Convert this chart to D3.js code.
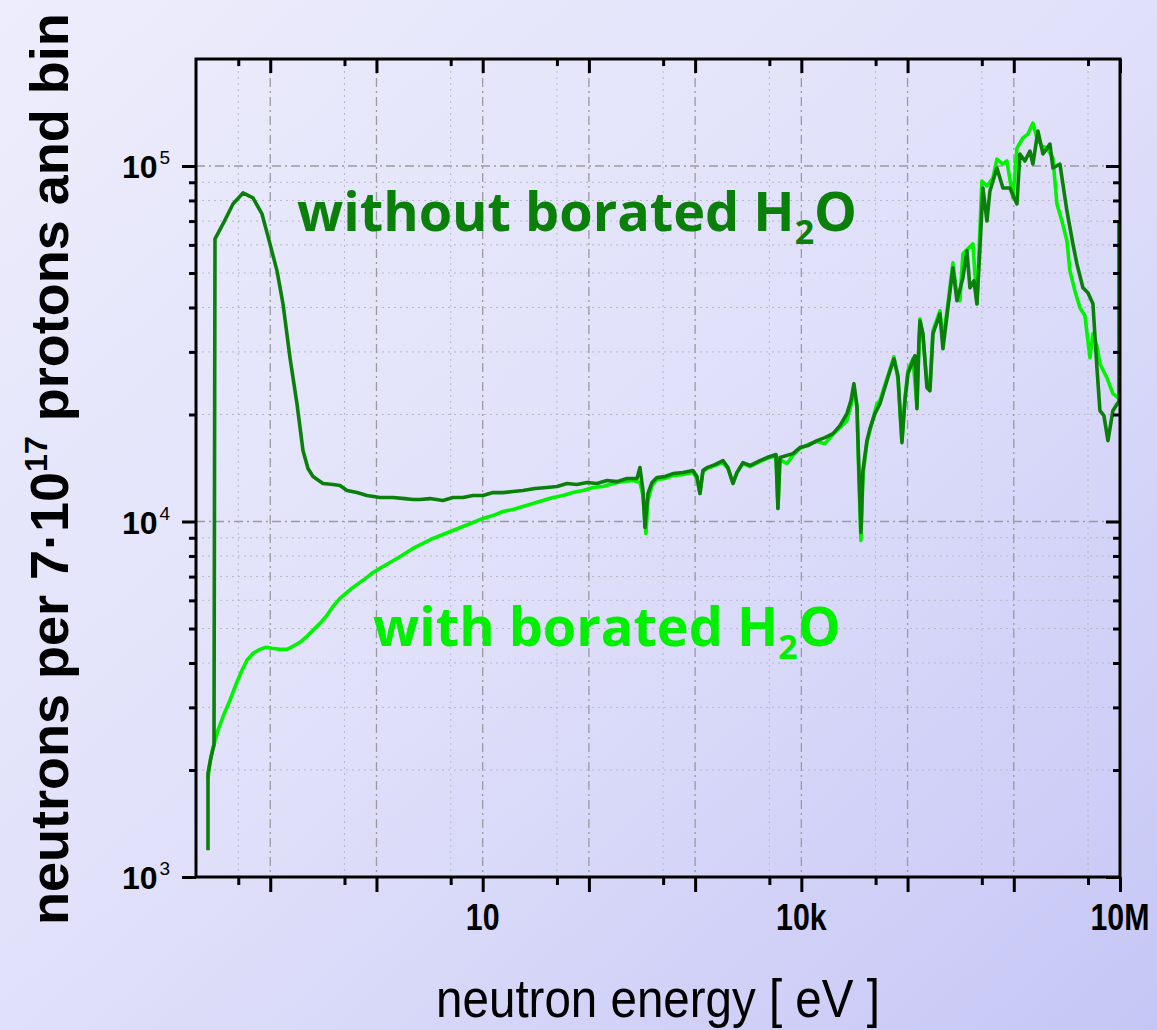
<!DOCTYPE html>
<html><head><meta charset="utf-8">
<script src="https://cdn.jsdelivr.net/npm/d3@7"></script>
<style>html,body{margin:0;padding:0;} svg{display:block;}</style>
</head><body>
<svg id="chart" width="1157" height="1030"></svg>
<script>
// ---- data (neutron energy in eV, neutrons per bin) ----
const withoutEnergy = [0.02594,0.02594,0.02768,0.02954,0.03019,0.03591,0.04459,0.05538,0.06880,0.08363,0.09945,0.1158,0.1318,0.1534,0.1785,0.2033,0.2266,0.2526,0.3136,0.3897,0.4534,0.5279,0.6556,0.8140,1.079,1.431,1.855,2.207,2.568,3.190,4.227,5.253,6.523,8.101,10.06,12.50,15.52,19.28,23.95,31.06,40.29,50.04,62.16,77.20,95.85,119.1,147.9,183.7,228.2,283.5,302.5,322.7,337.0,359.6,392.3,437.1,520.0,618.4,768.2,954.1,1040,1110,1185,1292,1537,1828,2037,2270,2476,2819,3283,4077,4746,5768,6022,6287,8334,9700,11540,14030,16680,19840,23090,26870,29310,31270,33380,34850,36390,38010,41450,44230,49300,54950,63930,74400,81180,88510,94470,100800,112300,117300,122500,128000,130800,139500,152200,162400,173400,201700,215300,239900,267400,291600,332000,362200,386600,421600,449800,480200,512300,558700,596200,693900,790400,919400,1.071e6,1.142e6,1.273e6,1.419e6,1.514e6,1.688e6,1.881e6,2.189e6,2.336e6,2.719e6,3.164e6,3.604e6,3.930e6,4.477e6,4.989e6,5.561e6,6.064e6,6.471e6,7.056e6,7.695e6,8.577e6,9.557e6,9.77e6,9.77e6];
const withoutCounts = [1190,1960,2174,2349,62360,68720,78220,84000,81300,73300,60390,50700,40960,28900,21450,15830,14090,13380,12790,12710,12620,12220,12060,11830,11680,11680,11600,11530,11530,11600,11460,11680,11680,11830,11830,12060,12060,12140,12220,12380,12460,12540,12790,12710,12870,12790,13040,12950,13210,13210,14180,12220,9620,11990,12870,13290,13380,13640,13730,13910,13380,11990,13910,14180,14460,14840,14180,12790,13730,14650,14370,14840,15130,15430,10880,15130,15520,16140,16350,16890,17220,17670,18610,20110,21880,24420,21180,13910,9310,13910,16890,18250,20110,21450,24900,28700,25710,16670,21880,26040,28330,29260,20770,32240,36700,33740,23790,23330,33740,38400,30620,39920,51700,41770,48460,57710,45440,47530,40960,58850,86750,70060,85090,98720,86750,86750,78220,108100,103300,110200,101300,125400,108100,115300,98720,101300,74750,60390,53050,45440,44000,40960,27080,20500,19850,16890,20500,21590,21590,70060];

const withEnergy = [0.02594,0.02709,0.02891,0.03221,0.03669,0.04178,0.04759,0.05420,0.06039,0.06880,0.08005,0.09119,0.1038,0.1235,0.1437,0.1637,0.1905,0.2218,0.2526,0.2939,0.3421,0.3897,0.4534,0.5279,0.6009,0.6996,0.8140,0.9273,1.079,1.340,1.560,1.855,2.207,2.741,3.404,4.227,5.253,6.523,8.101,10.06,12.50,15.52,19.28,23.95,29.74,36.94,45.89,57.00,70.78,87.90,109.2,135.6,168.5,209.2,259.9,302.5,322.7,344.4,359.6,392.3,437.1,520.0,618.4,768.2,954.1,1040,1110,1185,1292,1537,1828,2037,2270,2476,2819,3283,4077,4746,5768,6022,6287,7317,8334,9700,12050,14030,16680,19840,23090,26870,29310,31270,33380,34850,36390,38010,41450,44230,51480,54950,63930,74400,81180,88510,94470,100800,112300,122500,130800,139500,152200,162400,173400,201700,215300,239900,267400,291600,311200,332000,370200,412500,449800,501300,558700,636400,693900,790400,861700,981700,1.071e6,1.219e6,1.359e6,1.514e6,1.651e6,1.841e6,2.051e6,2.336e6,2.548e6,2.840e6,3.164e6,3.377e6,3.763e6,4.195e6,4.675e6,5.209e6,5.561e6,6.064e6,6.471e6,7.530e6,8.577e6,9.557e6];
const withCounts = [1897,2104,2319,2588,2870,3142,3484,3815,4070,4258,4369,4427,4398,4369,4369,4456,4573,4753,4941,5170,5445,5771,6078,6318,6525,6741,6962,7190,7379,7670,7872,8130,8399,8675,8960,9194,9435,9683,9936,10200,10390,10670,10810,11020,11230,11460,11680,11830,12060,12220,12460,12540,12790,12950,13040,12870,11830,9253,11460,12620,13120,13210,13470,13550,13730,13210,11990,13820,14090,14370,14650,14090,12870,13730,14550,14270,14740,15030,15330,10880,14940,14550,15330,16040,16560,16780,16560,17560,18360,19220,21180,23630,20900,13040,8843,13470,16670,18010,21450,21880,25220,29070,25220,16890,22160,26570,28700,21180,37170,33310,24580,23940,34400,39150,32240,40960,53390,43140,41770,56600,58470,60390,40960,90770,87880,92550,104600,101300,103300,81300,112400,119900,123000,132100,119900,113800,112400,105300,78220,70060,61560,50700,44570,39920,37910,28900,33740,31220,27790,25380,22890,22300];

const xTickValues = [10, 1e4, 1e7];
const xTickLabels = ["10", "10k", "10M"];
const yTickValues = [1e3, 1e4, 1e5];
const yTickExponents = ["3", "4", "5"];
const seriesLabels = ["without borated H", "with borated H"];

// ---- layout ----
const W = 1157, H = 1030;
const svg = d3.select("#chart");
const mLeft = 196, mRight = 1120, mTop = 59, mBottom = 877;

const defs = svg.append("defs");
const grad = defs.append("linearGradient").attr("id","bg")
  .attr("x1","0").attr("y1","0").attr("x2","1").attr("y2","1");
grad.append("stop").attr("offset","0").attr("stop-color","#ededfc");
grad.append("stop").attr("offset","0.5").attr("stop-color","#e0e0fa");
grad.append("stop").attr("offset","1").attr("stop-color","#c6c6f6");
svg.append("rect").attr("width",W).attr("height",H).attr("fill","url(#bg)");

const x = d3.scaleLog().domain([0.02, 1e7]).range([mLeft, mRight]);
const y = d3.scaleLog().domain([1e3, 2e5]).range([mBottom, mTop]);

const xMajor = d3.range(-1, 8).map(e => Math.pow(10, e));
const xMinor = d3.range(-2, 7).map(e => 5 * Math.pow(10, e)).filter(v => v > 0.02 && v < 1e7);
const yMajor = [1e3, 1e4, 1e5];
const yMinor = [];
[1e3, 1e4, 1e5].forEach(d => { for (let k = 2; k <= 9; k++) { const v = k * d; if (v < 2e5) yMinor.push(v); } });

const grid = svg.append("g");
grid.selectAll(".vminor").data(xMinor).join("line")
  .attr("x1", d => x(d)).attr("x2", d => x(d)).attr("y1", mTop).attr("y2", mBottom)
  .attr("stroke", "#b8b8c4").attr("stroke-width", 1).attr("stroke-dasharray", "2,4");
grid.selectAll(".hminor").data(yMinor).join("line")
  .attr("y1", d => y(d)).attr("y2", d => y(d)).attr("x1", mLeft).attr("x2", mRight)
  .attr("stroke", "#b8b8c4").attr("stroke-width", 1).attr("stroke-dasharray", "2,4");
grid.selectAll(".vmajor").data(xMajor.filter(v => v < 1e7)).join("line")
  .attr("x1", d => x(d)).attr("x2", d => x(d)).attr("y1", mTop).attr("y2", mBottom)
  .attr("stroke", "#9a9aa0").attr("stroke-width", 1.3).attr("stroke-dasharray", "9,4,2,4");
grid.selectAll(".hmajor").data([1e4, 1e5]).join("line")
  .attr("y1", d => y(d)).attr("y2", d => y(d)).attr("x1", mLeft).attr("x2", mRight)
  .attr("stroke", "#9a9aa0").attr("stroke-width", 1.3).attr("stroke-dasharray", "9,4,2,4");

// ---- curves ----
const line = d3.line().x(d => x(d[0])).y(d => y(d[1]));
const withData = withEnergy.map((e, i) => [e, withCounts[i]]);
const withoutData = withoutEnergy.map((e, i) => [e, withoutCounts[i]]);
svg.append("path").datum(withData).attr("d", line)
  .attr("fill", "none").attr("stroke", "#00f400").attr("stroke-width", 3.6).attr("stroke-linejoin", "round");
svg.append("path").datum(withoutData).attr("d", line)
  .attr("fill", "none").attr("stroke", "#0a800a").attr("stroke-width", 3.6).attr("stroke-linejoin", "round");

// ---- axes ----
function styleAxis(g) {
  g.selectAll(".domain").remove();
  g.selectAll(".tick line").attr("stroke", "#000").attr("stroke-width", 3);
  g.selectAll(".tick text").remove();
}
svg.append("g").attr("transform", `translate(0,${mBottom})`)
  .call(d3.axisBottom(x).tickValues(xMajor).tickSize(15)).call(styleAxis);
svg.append("g").attr("transform", `translate(0,${mBottom})`)
  .call(d3.axisBottom(x).tickValues(xMinor).tickSize(8)).call(styleAxis);
svg.append("g").attr("transform", `translate(0,${mTop})`)
  .call(d3.axisBottom(x).tickValues(xMajor).tickSize(14)).call(styleAxis);
svg.append("g").attr("transform", `translate(0,${mTop})`)
  .call(d3.axisBottom(x).tickValues(xMinor).tickSize(7)).call(styleAxis);
svg.append("g").attr("transform", `translate(${mLeft},0)`)
  .call(d3.axisLeft(y).tickValues(yMajor).tickSize(14)).call(styleAxis);
svg.append("g").attr("transform", `translate(${mLeft},0)`)
  .call(d3.axisLeft(y).tickValues(yMinor).tickSize(7)).call(styleAxis);
svg.append("g").attr("transform", `translate(${mRight},0)`)
  .call(d3.axisLeft(y).tickValues(yMajor).tickSize(14)).call(styleAxis);
svg.append("g").attr("transform", `translate(${mRight},0)`)
  .call(d3.axisLeft(y).tickValues(yMinor).tickSize(7)).call(styleAxis);

svg.append("rect").attr("x", mLeft).attr("y", mTop).attr("width", mRight - mLeft).attr("height", mBottom - mTop)
  .attr("fill", "none").attr("stroke", "#000").attr("stroke-width", 3);

// x tick labels (narrow)
svg.append("g").selectAll("text").data(xTickValues).join("text")
  .attr("transform", d => `translate(${x(d)},930) scale(0.82,1)`).attr("text-anchor", "middle")
  .attr("font-family", "'Liberation Sans',Arial,sans-serif").attr("font-size", 37).attr("font-weight", "bold")
  .attr("fill", "#000").text((d, i) => xTickLabels[i]);

// y tick labels 10^n
const yl = svg.append("g").selectAll("text").data(yTickValues).join("text")
  .attr("x", 122).attr("y", d => y(d) + 12)
  .attr("font-family", "'Liberation Sans',Arial,sans-serif").attr("font-weight", "bold").attr("font-size", 32).attr("fill", "#000");
yl.append("tspan").text("10");
yl.append("tspan").attr("dx", 2).attr("dy", -14).attr("font-size", 19).attr("font-weight", "normal").text((d, i) => yTickExponents[i]);

// x axis title (narrow)
svg.append("text").attr("transform", "translate(658,1017) scale(0.88,1)").attr("text-anchor", "middle")
  .attr("font-family", "'Liberation Sans',Arial,sans-serif").attr("font-size", 54).attr("fill", "#000")
  .text("neutron energy [ eV ]");

// y axis title
const yt = svg.append("text").attr("transform", "translate(68,925) rotate(-90)")
  .attr("font-family", "'Liberation Sans',Arial,sans-serif").attr("font-weight", "bold")
  .attr("font-size", 54).attr("fill", "#000");
yt.append("tspan").text("neutrons per 7\u00b710");
yt.append("tspan").attr("dy", -21).attr("font-size", 32).text("17");
yt.append("tspan").attr("dy", 21).text(" protons and bin");

function label(txt, xx, yy, color) {
  const t = svg.append("text").attr("x", xx).attr("y", yy)
    .attr("font-family", "'Open Sans','Noto Sans',sans-serif").attr("font-weight", "bold")
    .attr("font-size", 54).attr("fill", color);
  t.append("tspan").text(txt);
  t.append("tspan").attr("dy", 13).attr("font-size", 34).text("2");
  t.append("tspan").attr("dy", -13).text("O");
}
label(seriesLabels[0], 297, 231, "#0a800a");
label(seriesLabels[1], 373, 646, "#00f000");
</script>
</body></html>
